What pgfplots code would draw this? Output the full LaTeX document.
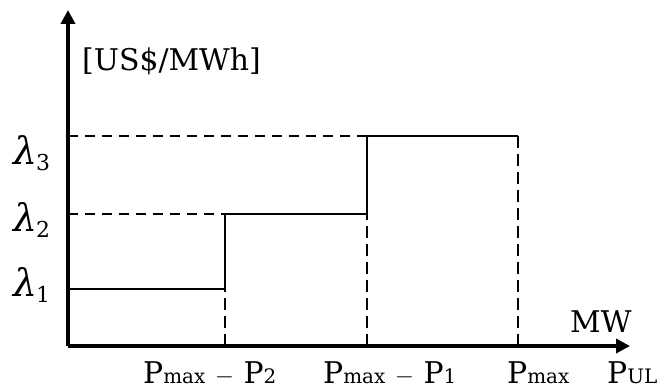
\documentclass[border=0pt]{standalone}
\usepackage{pgfplots}
\pgfplotsset{compat=1.18}
\usepackage{fontspec}
\setmainfont{DejaVu Serif}
\usetikzlibrary{arrows.meta}
\newcommand{\lbl}{\fontsize{30}{36}\selectfont}
\newcommand{\sub}[1]{{\fontsize{20}{24}\selectfont #1}}
\newcommand{\lam}[1]{{\fontsize{38}{44}\selectfont\itshape λ\kern-1bp\raisebox{-6bp}{\fontsize{22}{24}\selectfont\upshape #1}}}
\begin{document}
\begin{tikzpicture}
\begin{axis}[
  scale only axis, width=562bp, height=336bp,
  xmin=0, xmax=562, ymin=0, ymax=336,
  axis x line=bottom, axis y line=left,
  axis line style={line width=4.5bp, -{Triangle[length=14bp,width=14bp]}},
  xtick=\empty, ytick=\empty,
  clip=false,
]
% step function (price curve)
\addplot[black, line width=2bp] coordinates {(0,57) (157,57) (157,132) (299,132) (299,210) (450,210)};
% dashed guides
\addplot[black, line width=2bp, dash pattern=on 10bp off 7bp] coordinates {(0,132) (157,132)};
\addplot[black, line width=2bp, dash pattern=on 10bp off 7bp] coordinates {(0,210) (299,210)};
\addplot[black, line width=2bp, dash pattern=on 12bp off 6bp] coordinates {(157,0) (157,57)};
\addplot[black, line width=2bp, dash pattern=on 12bp off 6bp] coordinates {(299,0) (299,132)};
\addplot[black, line width=2bp, dash pattern=on 12bp off 6bp] coordinates {(450,210) (450,0)};
% labels
\node[anchor=base west, inner sep=0pt] at (axis cs:14,275) {\lbl [US\$/MWh]};
\node[anchor=base west, inner sep=0pt] at (axis cs:502,14) {\lbl MW};
\node[anchor=base west, inner sep=0pt] at (axis cs:-55,50) {\lam{1}};
\node[anchor=base west, inner sep=0pt] at (axis cs:-55,114) {\lam{2}};
\node[anchor=base west, inner sep=0pt] at (axis cs:-55,181) {\lam{3}};
\node[anchor=base west, inner sep=0pt] at (axis cs:75,-37) {\lbl P\sub{max} $-$ P\sub{2}};
\node[anchor=base west, inner sep=0pt] at (axis cs:255,-37) {\lbl P\sub{max} $-$ P\sub{1}};
\node[anchor=base west, inner sep=0pt] at (axis cs:439,-37) {\lbl P\sub{max}};
\node[anchor=base west, inner sep=0pt] at (axis cs:539,-37) {\lbl P\sub{UL}};
\coordinate (bl) at (axis cs:-68,-46);
\coordinate (tr) at (axis cs:590,346);
\end{axis}
\pgfresetboundingbox
\path[use as bounding box] (bl) rectangle (tr);
\end{tikzpicture}
\end{document}
